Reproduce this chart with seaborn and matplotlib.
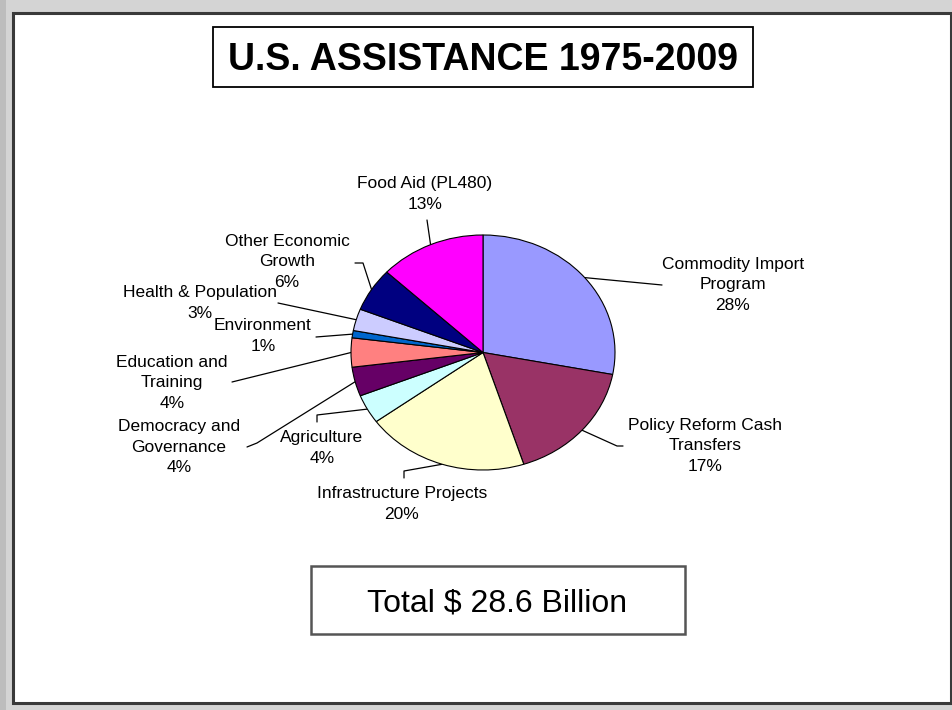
import numpy as np
import matplotlib
matplotlib.use("Agg")
import matplotlib.pyplot as plt
import seaborn as sns
from matplotlib.patches import Rectangle

# ---- data ----
categories = ["Commodity Import\nProgram", "Policy Reform Cash\nTransfers",
              "Infrastructure Projects", "Agriculture", "Democracy and\nGovernance",
              "Education and\nTraining", "Environment", "Health & Population",
              "Other Economic\nGrowth", "Food Aid (PL480)"]
shares = [28, 17, 20, 4, 4, 4, 1, 3, 6, 13]
colors = ["#9999FF", "#993366", "#FFFFCC", "#CCFFFF", "#660066",
          "#FF8080", "#0066CC", "#CCCCFF", "#000080", "#FF00FF"]
title = "U.S. ASSISTANCE 1975-2009"
total_label = "Total $ 28.6 Billion"

# ---- layout (pixels) ----
W, H = 953, 710
CX, CY, RX, RY = 483, 352.5, 132, 117.5
label_pos = [(733, 285), (705, 446), (402, 504), (322, 448), (179, 447),
             (172, 383), (263, 336), (200, 303), (287, 262), (425, 194)]
leader_pts = [[(662, 285)], [(623, 446), (617, 446)], [(404, 478), (404, 471)],
              [(317, 422), (317, 415)], [(247, 447), (257, 443)], [(232, 382)],
              [(316, 337)], [(278, 303)], [(355, 263), (363, 263)], [(427, 220)]]

sns.set_theme(style="white")
plt.rcParams['font.family'] = ['Liberation Sans', 'DejaVu Sans']
plt.rcParams['text.color'] = 'black'
palette = sns.color_palette(colors)

fig = plt.figure(figsize=(W / 100, H / 100), dpi=100, facecolor="#d4d4d4")
bg = fig.add_axes([0, 0, 1, 1])
bg.set_xlim(0, W)
bg.set_ylim(H, 0)
bg.axis('off')
bg.patch.set_alpha(0)

# left darker strip
bg.add_patch(Rectangle((0, 0), 6, H, fc="#bdbdbd", ec="none"))
bg.add_patch(Rectangle((13, 13), 938, 690, fc="white", ec="#3a3a3a", lw=2.2))
bg.add_patch(Rectangle((213, 27), 540, 60, fc="white", ec="black", lw=1.3))
bg.text(483, 70, title, ha="center", va="baseline", fontsize=27,
        fontweight="bold", color="black")
bg.add_patch(Rectangle((311, 566), 374, 68, fc="white", ec="#555555", lw=1.8))
bg.text(497, 612, total_label, ha="center", va="baseline", fontsize=23,
        color="black")

# pie
ax = fig.add_axes([(CX - RX) / W, (H - CY - RY) / H, 2 * RX / W, 2 * RY / H])
wedges, _ = ax.pie(shares, colors=palette, startangle=90, counterclock=False,
                   wedgeprops=dict(edgecolor="black", linewidth=0.8))
for w in wedges:
    w.set_clip_on(False)
ax.set_aspect('auto')
ax.set_xlim(-1, 1)
ax.set_ylim(-1, 1)
ax.axis('off')

total = sum(shares)
cum = 0
for cat, s, (lx, ly), pts in zip(categories, shares, label_pos, leader_pts):
    mid = np.deg2rad(90 - 360 * (cum + s / 2) / total)
    cum += s
    ex = CX + RX * np.cos(mid)
    ey = CY - RY * np.sin(mid)
    xs = [p[0] for p in pts] + [ex]
    ys = [p[1] for p in pts] + [ey]
    bg.plot(xs, ys, color="black", lw=0.9)
    bg.text(lx, ly, f"{cat}\n{s}%", ha="center", va="center",
            multialignment="center", fontsize=12.5, linespacing=1.47,
            color="black")

fig.savefig("out.png", dpi=100, facecolor=fig.get_facecolor())
